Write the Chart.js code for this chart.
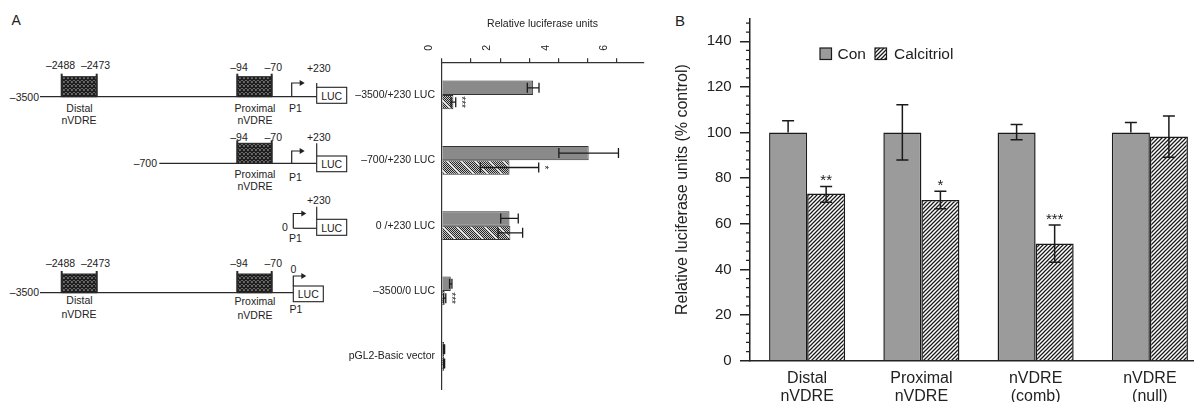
<!DOCTYPE html>
<html><head><meta charset="utf-8">
<script src="https://cdn.jsdelivr.net/npm/chart.js@4.4.0/dist/chart.umd.min.js"></script>
<style>
html,body{margin:0;padding:0;background:#fff;overflow:hidden;width:1194px;height:402px;}
#wrap{position:relative;width:1194px;height:402px;overflow:hidden;}
#diag{position:absolute;left:0;top:0;}
#cA{position:absolute;left:300px;top:0;}
#cB{position:absolute;left:640px;top:0;}
</style></head><body>
<div id="wrap">
<svg id="diag" width="1194" height="402" font-family="Liberation Sans, Arial, sans-serif">
<defs>
<pattern id="xh" width="4" height="4" patternUnits="userSpaceOnUse">
<rect width="4" height="4" fill="#fff"/>
<path d="M-1,-1 L5,5 M5,-1 L-1,5" stroke="#1e1e1e" stroke-width="1.6"/>
</pattern>
</defs>
</svg>
<canvas id="cA" width="350" height="402"></canvas>
<canvas id="cB" width="567" height="402"></canvas>
</div>
<script>
// ---------- Panel A data ----------
const rowLabels = ['–3500/+230 LUC', '–700/+230 LUC', '0 /+230 LUC', '–3500/0 LUC', 'pGL2-Basic vector'];
const rluTicks = [0, 2, 4, 6];
const rluCon = [3.13, 5.03, 2.32, 0.31, 0.08];
const rluConErr = [0.2, 1.02, 0.3, 0.04, 0.02];
const rluCal = [0.4, 2.32, 2.35, 0.1, 0.08];
const rluCalErr = [0.08, 1.0, 0.42, 0.04, 0.02];
const rluCalSig = ['***', '*', '', '***', ''];

// ---------- Panel B data ----------
const groupLabels = [['Distal', 'nVDRE'], ['Proximal', 'nVDRE'], ['nVDRE', '(comb)'], ['nVDRE', '(null)']];
const pctTicks = [0, 20, 40, 60, 80, 100, 120, 140];
const pctCon = [100, 100, 100, 100];
const pctConErrUp = [5.2, 12.2, 3.5, 4.4];
const pctConErrDown = [0, 12, 3.1, 0];
const pctCal = [73.3, 70.4, 51.4, 98.3];
const pctCalErrUp = [3.1, 3.9, 8.1, 9.0];
const pctCalErrDown = [3.8, 3.8, 8.2, 9.1];
const pctCalSig = ['**', '*', '***', ''];
const seriesNames = ['Con', 'Calcitriol'];

const FAM = '"Liberation Sans", Arial, sans-serif';
Chart.defaults.font.family = FAM;
Chart.defaults.color = '#222';

// ---------- Diagram (schematic, SVG) ----------
const svgNS = 'http://www.w3.org/2000/svg';
const svg = document.getElementById('diag');
function el(tag, attrs, txt) {
  const e = document.createElementNS(svgNS, tag);
  for (const k in attrs) e.setAttribute(k, attrs[k]);
  if (txt !== undefined) e.textContent = txt;
  svg.appendChild(e); return e;
}
function ln(x1, y1, x2, y2, w) { el('line', {x1, y1, x2, y2, stroke: '#2a2a2a', 'stroke-width': w || 1.2}); }
function tx(x, y, s, anchor, size) { el('text', {x, y, 'text-anchor': anchor || 'middle', 'dominant-baseline': 'central', 'font-size': size || 10.5, fill: '#222'}, s); }
function vdre(x1, x2, yb, h) {
  el('rect', {x: x1, y: yb - h, width: x2 - x1, height: h, fill: 'url(#xh)', stroke: '#222', 'stroke-width': 1});
  ln(x1, yb - h - 3, x1, yb, 2); ln(x2, yb - h - 3, x2, yb, 2);
}
function arrow(x, yb, yt) {
  el('path', {d: `M${x},${yb} L${x},${yt} L${x + 9},${yt}`, fill: 'none', stroke: '#222', 'stroke-width': 1.2});
  el('path', {d: `M${x + 8},${yt - 3} L${x + 13},${yt} L${x + 8},${yt + 3} Z`, fill: '#222'});
}
function luc(x, y1, y2) {
  el('rect', {x, y: y1, width: 30, height: y2 - y1, fill: '#fff', stroke: '#222', 'stroke-width': 1.1});
  tx(x + 15, (y1 + y2) / 2 + 0.5, 'LUC');
}
el('text', {x: 11.5, y: 24.5, 'font-size': 14, fill: '#222'}, 'A');
el('text', {x: 675, y: 26, 'font-size': 15, fill: '#222'}, 'B');

// Row 1
tx(39, 96.7, '–3500', 'end'); ln(40, 96.7, 316.7, 96.7);
vdre(61.7, 96.7, 96.7, 20); tx(60.5, 65, '–2488'); tx(95.5, 65, '–2473');
tx(79.5, 107.5, 'Distal'); tx(79, 119.5, 'nVDRE');
vdre(237.3, 271.7, 96.7, 20); tx(239, 67, '–94'); tx(273.3, 67, '–70');
tx(255, 107.5, 'Proximal'); tx(255, 119.5, 'nVDRE');
arrow(291.7, 96.7, 83); tx(295.5, 107.5, 'P1');
tx(318.8, 67.5, '+230'); ln(316.7, 83, 316.7, 88);
luc(316.7, 87.3, 103.3);
// Row 2
tx(157, 163.3, '–700', 'end'); ln(159.3, 163.3, 316.7, 163.3);
vdre(237.3, 271.7, 163.3, 20); tx(239, 137, '–94'); tx(273.3, 137, '–70');
tx(255, 174, 'Proximal'); tx(255, 186, 'nVDRE');
arrow(291.7, 163.3, 151); tx(295.5, 176.5, 'P1');
tx(318.8, 136.7, '+230'); ln(316.7, 143.3, 316.7, 156);
luc(316.7, 156, 171.7);
// Row 3
tx(285, 226.7, '0'); ln(293.3, 228.3, 316.7, 228.3);
arrow(293.3, 228.3, 213.5); tx(295.5, 237.5, 'P1');
tx(318.8, 200, '+230'); ln(316.7, 206.7, 316.7, 219.3);
luc(316.7, 219.3, 235.3);
// Row 4
tx(39, 291.7, '–3500', 'end'); ln(40, 292.7, 293.3, 292.7);
vdre(61.7, 96.7, 292.7, 18.7); tx(60.5, 262.7, '–2488'); tx(95.5, 262.7, '–2473');
tx(79.5, 300, 'Distal'); tx(79, 313.5, 'nVDRE');
vdre(237.3, 271.7, 292.7, 18.7); tx(239, 262.7, '–94'); tx(273.3, 262.7, '–70');
tx(255, 301, 'Proximal'); tx(255, 314.5, 'nVDRE');
tx(293.3, 269.3, '0'); arrow(293.3, 286, 276); tx(296, 308.5, 'P1');
luc(293.3, 286, 301.7);

// ---------- patterns ----------
function makePattern(w, h, fn) {
  const c = document.createElement('canvas'); c.width = w; c.height = h;
  const g = c.getContext('2d'); fn(g);
  return g.createPattern(c, 'repeat');
}
const patA = makePattern(14, 14, g => {
  g.fillStyle = '#c8c8c8'; g.fillRect(0, 0, 14, 14);
  g.fillStyle = '#262626';
  for (let y = 0; y < 14; y++) for (let x = 0; x < 14; x++) if ((x + y) % 2 === 0) g.fillRect(x, y, 1, 1);
  g.fillStyle = '#f0f0f0';
  for (let i = 0; i < 14; i++) { g.fillRect(i, i, 1, 1); }
});
const patB = makePattern(4, 4, g => {
  g.fillStyle = '#fff'; g.fillRect(0, 0, 4, 4);
  g.strokeStyle = '#1a1a1a'; g.lineWidth = 1.25; g.beginPath();
  g.moveTo(-1, 5); g.lineTo(5, -1); g.moveTo(-1, 1); g.lineTo(1, -1); g.moveTo(3, 5); g.lineTo(5, 3);
  g.stroke();
});

// ---------- Panel A chart ----------
const errA = {id: 'errA', afterDatasetsDraw(chart) {
  const ctx = chart.ctx, xs = chart.scales.x;
  const sets = [[rluCon, rluConErr, null], [rluCal, rluCalErr, rluCalSig]];
  ctx.save(); ctx.strokeStyle = '#1a1a1a'; ctx.lineWidth = 1.3;
  sets.forEach((s, di) => {
    chart.getDatasetMeta(di).data.forEach((bar, i) => {
      const y = bar.y;
      const x1 = xs.getPixelForValue(Math.max(0, s[0][i] - s[1][i]));
      const x2 = xs.getPixelForValue(s[0][i] + s[1][i]);
      ctx.beginPath();
      ctx.moveTo(x1, y); ctx.lineTo(x2, y);
      ctx.moveTo(x1, y - 5); ctx.lineTo(x1, y + 5);
      ctx.moveTo(x2, y - 5); ctx.lineTo(x2, y + 5);
      ctx.stroke();
      if (s[2] && s[2][i]) {
        ctx.save(); ctx.translate(x2 + 5, y); ctx.rotate(Math.PI / 2);
        ctx.font = '10px ' + FAM; ctx.textAlign = 'center'; ctx.textBaseline = 'middle';
        ctx.fillStyle = '#222'; ctx.fillText(s[2][i], 0, 0); ctx.restore();
      }
    });
  });
  ctx.restore();
}};

new Chart(document.getElementById('cA'), {
  type: 'bar',
  data: {labels: rowLabels, datasets: [
    {label: seriesNames[0], data: rluCon, backgroundColor: '#8a8a8a', borderColor: '#333', borderWidth: 1},
    {label: seriesNames[1], data: rluCal, backgroundColor: patA, borderColor: '#333', borderWidth: 1}
  ]},
  options: {
    indexAxis: 'y', responsive: false, animation: false,
    layout: {padding: {left: 0, right: 6.7, top: 0, bottom: 12.5}},
    datasets: {bar: {barPercentage: 1, categoryPercentage: 0.44}},
    plugins: {legend: {display: false}, tooltip: {enabled: false}},
    scales: {
      x: {position: 'top', min: 0, max: 6.9,
        ticks: {stepSize: 1, includeBounds: false, minRotation: 90, maxRotation: 90, padding: 7.5,
          font: {size: 10.5}, color: '#222', callback: v => rluTicks.includes(v) ? String(v) : ''},
        grid: {drawOnChartArea: false, drawTicks: true, tickLength: 4, color: '#333', lineWidth: 1.2},
        border: {color: '#333', width: 1.2},
        title: {display: true, text: 'Relative luciferase units', font: {size: 10.5}, color: '#222', padding: {top: 18, bottom: 0}},
        afterFit: s => { s.height = 62.3; }},
      y: {ticks: {font: {size: 10.5}, color: '#222', padding: 6.7},
        grid: {display: false, drawTicks: false},
        border: {color: '#333', width: 1.2},
        afterFit: s => { s.width = 141.7; }}
    }
  },
  plugins: [errA]
});

// ---------- Panel B chart ----------
const errB = {id: 'errB', afterDatasetsDraw(chart) {
  const ctx = chart.ctx, ys = chart.scales.y;
  const sets = [[pctCon, pctConErrUp, pctConErrDown, null], [pctCal, pctCalErrUp, pctCalErrDown, pctCalSig]];
  ctx.save(); ctx.strokeStyle = '#1a1a1a'; ctx.lineWidth = 1.5;
  sets.forEach((s, di) => {
    chart.getDatasetMeta(di).data.forEach((bar, i) => {
      const x = bar.x, v = s[0][i];
      const yt = ys.getPixelForValue(v + s[1][i]);
      const yb = ys.getPixelForValue(v - s[2][i]);
      ctx.beginPath();
      ctx.moveTo(x, yt); ctx.lineTo(x, yb);
      if (s[1][i] > 0) { ctx.moveTo(x - 6, yt); ctx.lineTo(x + 6, yt); }
      if (s[2][i] > 0) { ctx.moveTo(x - 6, yb); ctx.lineTo(x + 6, yb); }
      ctx.stroke();
      if (s[3] && s[3][i]) {
        ctx.font = '15px ' + FAM; ctx.textAlign = 'center'; ctx.textBaseline = 'middle';
        ctx.fillStyle = '#222'; ctx.fillText(s[3][i], x, yt - 5.5);
      }
    });
  });
  ctx.restore();
}};
const minorB = {id: 'minorB', afterDraw(chart) {
  const ctx = chart.ctx, ys = chart.scales.y, x0 = chart.chartArea.left;
  ctx.save(); ctx.strokeStyle = '#222'; ctx.lineWidth = 1.3; ctx.beginPath();
  for (let v = 4; v < ys.max; v += 4) {
    if (v % 20 === 0) continue;
    const y = ys.getPixelForValue(v);
    ctx.moveTo(x0 - 4, y); ctx.lineTo(x0, y);
  }
  ctx.stroke(); ctx.restore();
}};
const legendB = {id: 'legendB', afterDraw(chart) {
  const ctx = chart.ctx;
  ctx.save();
  ctx.lineWidth = 1.2; ctx.strokeStyle = '#1a1a1a';
  ctx.fillStyle = '#9b9b9b'; ctx.fillRect(180, 48, 11.5, 11.5); ctx.strokeRect(180, 48, 11.5, 11.5);
  ctx.fillStyle = patB; ctx.fillRect(235, 48, 11.5, 11.5); ctx.strokeRect(235, 48, 11.5, 11.5);
  ctx.fillStyle = '#222'; ctx.font = '15.5px ' + FAM; ctx.textBaseline = 'middle'; ctx.textAlign = 'left';
  ctx.fillText(seriesNames[0], 197.5, 54.5);
  ctx.fillText(seriesNames[1], 254, 54.5);
  ctx.restore();
}};

new Chart(document.getElementById('cB'), {
  type: 'bar',
  data: {labels: groupLabels, datasets: [
    {label: seriesNames[0], data: pctCon, backgroundColor: '#9b9b9b', borderColor: '#1a1a1a', borderWidth: 1.5},
    {label: seriesNames[1], data: pctCal, backgroundColor: patB, borderColor: '#1a1a1a', borderWidth: 1.5}
  ]},
  options: {
    responsive: false, animation: false,
    layout: {padding: {top: 18.5, right: 0, left: 0, bottom: 0}},
    datasets: {bar: {barPercentage: 1, categoryPercentage: 0.666}},
    plugins: {legend: {display: false}, tooltip: {enabled: false}},
    scales: {
      x: {grid: {display: false, drawTicks: false}, border: {color: '#222', width: 1.5},
        ticks: {font: {size: 16, lineHeight: 1.17}, color: '#222', padding: 8.3},
        afterFit: s => { s.height = 41.3; }},
      y: {min: 0, max: 150,
        ticks: {stepSize: 20, includeBounds: false, font: {size: 15}, color: '#222', padding: 8.3,
          callback: v => pctTicks.includes(v) ? String(v) : ''},
        grid: {drawOnChartArea: false, drawTicks: true, tickLength: 10, color: '#222', lineWidth: 1.5},
        border: {color: '#222', width: 1.5},
        title: {display: true, text: 'Relative luciferase units (% control)', font: {size: 16}, color: '#222', padding: {top: 32.7, bottom: 0}},
        afterFit: s => { s.width = 110; }}
    }
  },
  plugins: [errB, minorB, legendB]
});
</script>
</body></html>
